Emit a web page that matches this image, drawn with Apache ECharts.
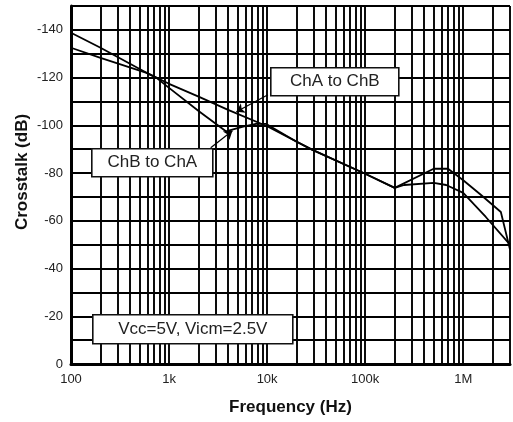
<!DOCTYPE html>
<html>
<head>
<meta charset="utf-8">
<script src="https://cdn.jsdelivr.net/npm/echarts@6/dist/echarts.min.js"></script>
<style>html,body{margin:0;padding:0;background:#fff}#c{width:513px;height:422px}</style>
</head>
<body>
<div id="c"></div>
<script>
// ---- data ----
const chaFreq = [100, 200, 590, 1000, 2000, 4000, 10000, 29000, 100000, 200000, 500000, 700000, 1000000, 1500000, 2420000, 3000000];
const chaDb   = [-132.5, -128.3, -122, -117.4, -112, -106.5, -99.6, -89.7, -79.7, -73.8, -81.8, -81.8, -77, -71, -63.7, -48];
const chbFreq = [100, 200, 590, 740, 1000, 2000, 3800, 5700, 7700, 9800, 20000, 29000, 100000, 200000, 250000, 500000, 670000, 1000000, 1700000, 3000000];
const chbDb   = [-138.8, -132.5, -122, -120, -115.7, -106, -97.5, -99.5, -100.6, -100.6, -93.1, -89.7, -79.7, -73.8, -75, -75.9, -75, -71.7, -61.6, -50];
const xTickValues = [100, 1000, 10000, 100000, 1000000];
const xTickLabels = ['100', '1k', '10k', '100k', '1M'];
const yTickValues = [0, -20, -40, -60, -80, -100, -120, -140];
const seriesNames = ['ChA to ChB', 'ChB to ChA'];
const noteText = 'Vcc=5V, Vicm=2.5V';

// minor vertical grid lines (2..9 per decade)
const minorFreqs = [];
for (let d = 100; d < 3e6; d *= 10) {
  for (let m = 2; m <= 9; m++) { if (d * m < 3e6) minorFreqs.push(d * m); }
}

const chart = echarts.init(document.getElementById('c'), null, {renderer: 'canvas'});
const lineCol = '#000';
const gridW = 1.9;
function box(left, top, w, h, text) {
  return {type: 'group', left: left, top: top, z: 100, children: [
    {type: 'rect', z: 100, shape: {x: 0, y: 0, width: w, height: h}, style: {fill: '#fff', stroke: '#111', lineWidth: 1.6}},
    {type: 'text', z: 101, x: w / 2, y: h / 2, style: {text: text, fontFamily: 'Liberation Sans', fontSize: 17, fill: '#222', align: 'center', verticalAlign: 'middle'}}
  ]};
}
const option = {
  backgroundColor: '#fff',
  animation: false,
  grid: {left: 71, right: 0, top: 6, bottom: 58},
  xAxis: {
    type: 'log', logBase: 10, min: 100, max: 3000000,
    name: 'Frequency (Hz)', nameLocation: 'middle', nameGap: 35, nameMoveOverlap: false,
    nameTextStyle: {fontFamily: 'Liberation Sans', fontWeight: 'bold', fontSize: 17, color: '#111'},
    axisLine: {onZero: false, lineStyle: {color: '#000', width: 3}},
    axisTick: {show: false},
    axisLabel: {
      fontFamily: 'Liberation Sans', fontSize: 13, color: '#222', margin: 9,
      formatter: v => { const i = xTickValues.findIndex(t => Math.abs(t - v) / t < 1e-6); return i >= 0 ? xTickLabels[i] : ''; }
    },
    splitLine: {show: true, lineStyle: {color: lineCol, width: gridW}}
  },
  yAxis: {
    type: 'value', inverse: true, min: -150, max: 0, interval: 10,
    name: 'Crosstalk (dB)', nameLocation: 'middle', nameGap: 40, nameMoveOverlap: false,
    nameTextStyle: {fontFamily: 'Liberation Sans', fontWeight: 'bold', fontSize: 17, color: '#111', padding: [0, 0, 0, 26]},
    axisLine: {lineStyle: {color: '#000', width: 3}},
    axisTick: {show: false},
    axisLabel: {
      fontFamily: 'Liberation Sans', fontSize: 13, color: '#222', margin: 8,
      formatter: v => yTickValues.indexOf(v) >= 0 ? String(v) : ''
    },
    splitLine: {show: true, lineStyle: {color: lineCol, width: gridW}}
  },
  series: [
    {
      name: 'grid', type: 'line', data: [], z: 1,
      markLine: {
        silent: true, symbol: 'none', label: {show: false}, z: 1,
        lineStyle: {color: lineCol, width: gridW, type: 'solid'},
        data: minorFreqs.map(f => ({xAxis: f}))
      }
    },
    {
      name: seriesNames[0], type: 'line', symbol: 'none', z: 5,
      data: chaFreq.map((f, i) => [f, chaDb[i]]),
      lineStyle: {color: '#000', width: 1.8},
      markLine: {
        silent: true, symbol: ['none', 'arrow'], symbolSize: 8,
        label: {show: false},
        lineStyle: {color: '#000', width: 1.2, type: 'solid'},
        data: [[{coord: [10200, -112.8]}, {coord: [4860, -105.7]}]]
      }
    },
    {
      name: seriesNames[1], type: 'line', symbol: 'none', z: 5,
      data: chbFreq.map((f, i) => [f, chbDb[i]]),
      lineStyle: {color: '#000', width: 1.8},
      markLine: {
        silent: true, symbol: ['none', 'arrow'], symbolSize: 8,
        label: {show: false},
        lineStyle: {color: '#000', width: 1.2, type: 'solid'},
        data: [[{coord: [2660, -90.6]}, {coord: [4430, -97.7]}]]
      }
    }
  ],
  graphic: [
    box(270, 67, 128, 28, seriesNames[0]),
    box(91, 148, 121, 28, seriesNames[1]),
    box(92, 314, 200, 29, noteText)
  ]
};
chart.setOption(option);
</script>
</body>
</html>
